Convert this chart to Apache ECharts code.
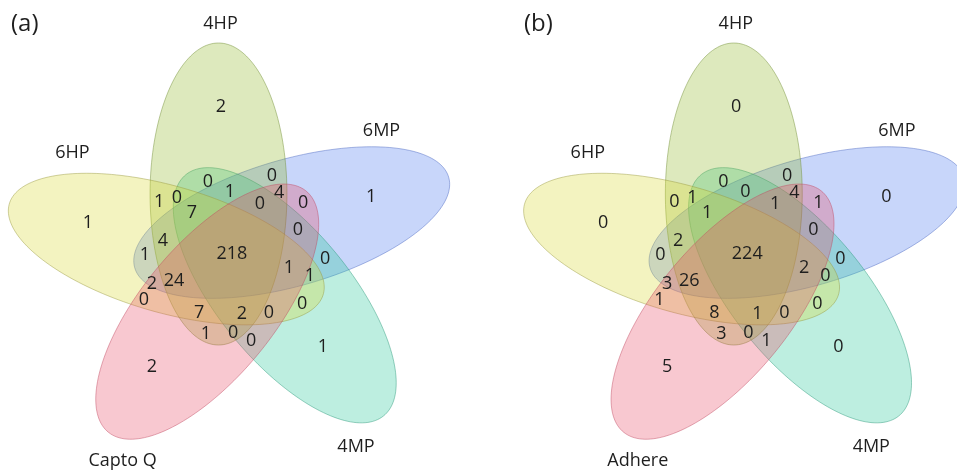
<!DOCTYPE html>
<html>
<head>
<meta charset="utf-8">
<script src="https://cdn.jsdelivr.net/npm/echarts@6/dist/echarts.min.js"></script>
<style>
html,body{margin:0;padding:0;background:#ffffff;}
#chart{width:957px;height:471px;}
</style>
</head>
<body>
<div id="chart"></div>
<script>
// ---------------- DATA ----------------
// Set order: A = 6HP, B = 4HP, C = 6MP, D = 4MP, E = Capto Q / Adhere
const setNamesA = ['6HP', '4HP', '6MP', '4MP', 'Capto Q'];
const setNamesB = ['6HP', '4HP', '6MP', '4MP', 'Adhere'];
const panelTitles = ['(a)', '(b)'];

// Venn regions (letters = sets the region belongs to)
const regions = ['A','B','C','D','E',
  'AB','AC','AD','AE','BC','BD','BE','CD','CE','DE',
  'ABC','ABD','ABE','ACD','ACE','ADE','BCD','BCE','BDE','CDE',
  'ABCD','ABCE','ABDE','ACDE','BCDE','ABCDE'];

const countsA = [1,2,1,1,2,
  1,1,0,0,0,0,1,0,0,0,
  4,0,7,1,2,0,1,4,0,0,
  7,24,2,1,0,
  218];

const countsB = [0,0,0,0,5,
  0,0,0,1,0,0,3,0,1,1,
  2,1,8,0,3,0,0,4,0,0,
  1,26,1,2,1,
  224];

// ---------------- LAYOUT (template of the 5-ellipse Venn, model units) ----------------
const ELL = { cx: -13.94, cy: 60.5, minor: 62.8, major: 151 };   // 4HP ellipse (unrotated)
const setRotation = [72, 0, -72, -144, 144];                      // degrees, per set A..E
const drawOrder = [2, 3, 1, 0, 4];                                // painting order of the ellipses
const setFill = ['rgba(215,215,45,0.3)', 'rgba(142,182,35,0.3)', 'rgba(72,118,238,0.3)',
                 'rgba(38,198,152,0.3)', 'rgba(232,72,98,0.3)'];
const setStroke = ['rgba(150,150,60,0.45)', 'rgba(110,140,50,0.45)', 'rgba(70,100,190,0.45)',
                   'rgba(40,150,120,0.45)', 'rgba(190,70,95,0.45)'];

const regionAnchor = {
  A:[-133.7,31.5], B:[-11.7,147.5], C:[126,57.5], D:[81.9,-92.5], E:[-75,-112.5],
  AB:[-68.5,52.5], AC:[-81.4,-0.5], AD:[62.7,-49.5], AE:[-82.3,-45.5], BC:[35.1,78.5],
  BD:[-23.6,72.5], BE:[-25.4,-79.5], CD:[83.8,-4.5], CE:[63.6,51.5], DE:[15.9,-86.5],
  ABC:[-64.9,13.5], ABD:[-52.0,56.5], ABE:[-31.8,-58.5], ACD:[70.0,-21.5], ACE:[-75.0,-29.5],
  ADE:[32.4,-58.5], BCD:[-3.4,62.5], BCE:[41.6,61.5], BDE:[-0.6,-78.5], CDE:[59.0,24.5],
  ABCD:[-38.3,41.5], ABCE:[-54.8,-26.5], ABDE:[7.6,-59.5], ACDE:[50.7,-13.5], BCDE:[24.1,50.5],
  ABCDE:[-1.6,0.5]
};
const nameAnchor = [[-147.9,101.5],[-12.1,230.5],[135.6,123.5],[112.2,-192.5],[-102,-206.5]];

const FONT = '"Open Sans", "Noto Sans", sans-serif';

// ---------------- RENDER ----------------
function ellipseRender(params, api) {
  const k = api.value(0);
  const rot = setRotation[k] * Math.PI / 180;
  const cr = Math.cos(rot), sr = Math.sin(rot);
  const cx = ELL.cx * cr - ELL.cy * sr;
  const cy = ELL.cx * sr + ELL.cy * cr;
  const phi = Math.PI / 2 + rot;
  const ux = Math.cos(phi), uy = Math.sin(phi);
  const vx = -uy, vy = ux;
  const pts = [];
  const N = 180;
  for (let i = 0; i < N; i++) {
    const t = i / N * 2 * Math.PI;
    const p = ELL.major * Math.cos(t), q = ELL.minor * Math.sin(t);
    pts.push(api.coord([cx + p * ux + q * vx, cy + p * uy + q * vy]));
  }
  return {
    type: 'polygon',
    shape: { points: pts },
    style: { fill: setFill[k], stroke: setStroke[k], lineWidth: 1 }
  };
}

function textRender(size) {
  return function (params, api) {
    const pt = api.coord([api.value(0), api.value(1)]);
    return {
      type: 'text',
      x: pt[0], y: pt[1],
      style: {
        text: String(api.value(2)),
        fill: '#1e1e1e',
        font: size + 'px ' + FONT,
        align: 'center',
        verticalAlign: 'middle'
      }
    };
  };
}

function panelSeries(pi, names, counts) {
  return [
    {
      type: 'custom', xAxisIndex: pi, yAxisIndex: pi, clip: false, silent: true,
      renderItem: ellipseRender,
      data: drawOrder.map((i) => [i, names[i]])
    },
    {
      type: 'custom', xAxisIndex: pi, yAxisIndex: pi, clip: false, silent: true, z: 5,
      renderItem: textRender(18),
      data: regions.map((r, i) => [regionAnchor[r][0], regionAnchor[r][1], counts[i]])
    },
    {
      type: 'custom', xAxisIndex: pi, yAxisIndex: pi, clip: false, silent: true, z: 5,
      renderItem: textRender(18),
      data: names.map((n, i) => [nameAnchor[i][0], nameAnchor[i][1], n])
    }
  ];
}

const chart = echarts.init(document.getElementById('chart'), null, { renderer: 'canvas' });
const axisX = (g) => ({ type: 'value', gridIndex: g, min: -210, max: 190, show: false });
const axisY = (g) => ({ type: 'value', gridIndex: g, min: -216, max: 250, show: false });

chart.setOption({
  backgroundColor: '#ffffff',
  animation: false,
  grid: [
    { left: 4.8, top: 4.5, width: 436, height: 466, outerBoundsMode: 'none' },
    { left: 520.1, top: 4.5, width: 436, height: 466, outerBoundsMode: 'none' }
  ],
  xAxis: [axisX(0), axisX(1)],
  yAxis: [axisY(0), axisY(1)],
  graphic: [
    { type: 'text', left: 11, top: 12, style: { text: panelTitles[0], font: '24px ' + FONT, fill: '#1e1e1e' } },
    { type: 'text', left: 524, top: 12, style: { text: panelTitles[1], font: '24px ' + FONT, fill: '#1e1e1e' } }
  ],
  series: [].concat(panelSeries(0, setNamesA, countsA), panelSeries(1, setNamesB, countsB))
});
</script>
</body>
</html>
